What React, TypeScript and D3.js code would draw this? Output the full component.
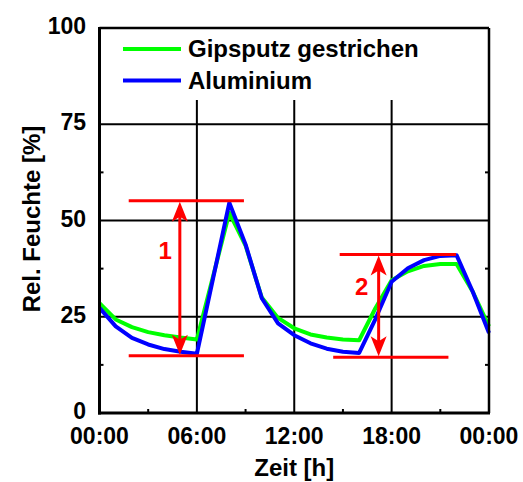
import React from "react";
import * as d3 from "d3";

const hours = [0, 1, 2, 3, 4, 5, 6, 7, 8, 9, 10, 11, 12, 13, 14, 15, 16, 17, 18, 19, 20, 21, 22, 23, 24];
const gipsputz = [28.5, 24.3, 22.3, 21.0, 20.2, 19.6, 19.1, 35.5, 52.0, 43.5, 30.0, 24.7, 22.0, 20.4, 19.6, 19.1, 18.9, 27.2, 34.5, 36.8, 38.2, 38.7, 38.7, 31.5, 22.5];
const aluminium = [27.3, 22.5, 19.5, 17.8, 16.6, 15.9, 15.4, 35.0, 54.6, 43.8, 29.8, 23.3, 20.2, 18.1, 16.7, 15.9, 15.6, 24.4, 34.1, 37.6, 39.7, 40.8, 41.0, 31.5, 20.8];
const seriesNames = ["Gipsputz gestrichen", "Aluminium"];
const seriesColors = ["#00ff00", "#0000ff"];
const yTicks = [0, 25, 50, 75, 100];
const yMinorTicks = [12.5, 37.5, 62.5, 87.5];
const xTicks = [0, 6, 12, 18, 24];
const xTickLabels = ["00:00", "06:00", "12:00", "18:00", "00:00"];
const xMinorTicks = [3, 9, 15, 21];

// annotation: label, arrow x, top value, bottom value, top line x-range, bottom line x-range, label pos
const annLabels = ["1", "2"];
const annArrowX = [4.95, 17.2];
const annTop = [55.1, 41.2];
const annBottom = [14.9, 14.5];
const annTopRange = [[1.8, 8.9], [14.8, 21.97]];
const annBottomRange = [[1.8, 8.9], [14.4, 21.5]];
const annLabelPos = [[4.05, 42.3], [16.15, 32.8]];

const W = 523, H = 482;
const FONT = "'Liberation Sans', Arial, Helvetica, sans-serif";

export default function App() {
  const x = d3.scaleLinear().domain([0, 24]).range([99.5, 489]);
  const y = d3.scaleLinear().domain([0, 100]).range([413, 28]);
  const line = d3.line<number>().x((_, i) => x(hours[i])).y((d) => y(d));
  const legendBottom = 100;

  const arrowHead = (px: number, py: number, dir: number) => {
    // dir = -1 pointing up, +1 pointing down
    const L = 20, Wd = 8, notch = 5;
    const by = py - dir * L;
    return `M${px},${py} L${px - Wd},${by} L${px},${by + dir * notch} L${px + Wd},${by} Z`;
  };

  return (
    <svg width={W} height={H} style={{ position: "absolute", left: 0, top: 0, background: "#fff" }} fontFamily={FONT}>
      <rect x={0} y={0} width={W} height={H} fill="#fff" />
      {/* grid */}
      {yTicks.slice(1, 4).map((t) => (
        <line key={"gy" + t} x1={x(0)} x2={x(24)} y1={y(t)} y2={y(t)} stroke="#000" strokeWidth={2} />
      ))}
      {xTicks.slice(1, 4).map((t) => (
        <line key={"gx" + t} x1={x(t)} x2={x(t)} y1={y(0)} y2={legendBottom} stroke="#000" strokeWidth={2} />
      ))}
      {/* minor ticks */}
      {yMinorTicks.map((t) => (
        <g key={"my" + t}>
          <line x1={x(0)} x2={x(0) + 4} y1={y(t)} y2={y(t)} stroke="#000" strokeWidth={2} />
          <line x1={x(24) - 4} x2={x(24)} y1={y(t)} y2={y(t)} stroke="#000" strokeWidth={2} />
        </g>
      ))}
      {xMinorTicks.map((t) => (
        <line key={"mx" + t} x1={x(t)} x2={x(t)} y1={y(0)} y2={y(0) - 4} stroke="#000" strokeWidth={2} />
      ))}
      {/* series */}
      <path d={line(gipsputz) || ""} fill="none" stroke={seriesColors[0]} strokeWidth={4} strokeLinejoin="round" />
      <path d={line(aluminium) || ""} fill="none" stroke={seriesColors[1]} strokeWidth={4} strokeLinejoin="round" />
      {/* legend */}
      <rect x={x(0) + 1} y={y(100) + 1} width={x(24) - x(0) - 2} height={legendBottom - y(100) - 1} fill="#fff" />
      {seriesNames.map((n, i) => (
        <g key={n}>
          <line x1={123} x2={181} y1={49 + i * 31.5} y2={49 + i * 31.5} stroke={seriesColors[i]} strokeWidth={4} />
          <text x={188} y={49 + i * 31.5} dy="0.35em" fontSize={24} fontWeight="bold" fill="#000">{n}</text>
        </g>
      ))}
      {/* frame */}
      <line x1={x(0)} x2={x(24)} y1={y(100)} y2={y(100)} stroke="#000" strokeWidth={2.5} />
      <line x1={x(24)} x2={x(24)} y1={y(100)} y2={y(0)} stroke="#000" strokeWidth={2.5} />
      <line x1={x(0)} x2={x(0)} y1={y(100) - 1} y2={y(0) + 1.5} stroke="#000" strokeWidth={3} />
      <line x1={x(0) - 1.5} x2={x(24) + 1} y1={y(0)} y2={y(0)} stroke="#000" strokeWidth={3} />
      {/* annotations */}
      {annLabels.map((lab, i) => {
        const ax = x(annArrowX[i]);
        const yt = y(annTop[i]);
        const yb = y(annBottom[i]);
        return (
          <g key={"ann" + i}>
            <line x1={x(annTopRange[i][0])} x2={x(annTopRange[i][1])} y1={yt} y2={yt} stroke="#ff0000" strokeWidth={3} />
            <line x1={x(annBottomRange[i][0])} x2={x(annBottomRange[i][1])} y1={yb} y2={yb} stroke="#ff0000" strokeWidth={3} />
            <line x1={ax} x2={ax} y1={yt + 10} y2={yb - 10} stroke="#ff0000" strokeWidth={3} />
            <path d={arrowHead(ax, yt + 1, -1)} fill="#ff0000" />
            <path d={arrowHead(ax, yb - 1, 1)} fill="#ff0000" />
            <text x={x(annLabelPos[i][0])} y={y(annLabelPos[i][1])} dy="0.35em" textAnchor="middle" fontSize={24} fontWeight="bold" fill="#ff0000">{lab}</text>
          </g>
        );
      })}
      {/* y tick labels */}
      {yTicks.map((t) => (
        <text key={"yl" + t} x={86} y={y(t) - 2} dy="0.35em" textAnchor="end" fontSize={23} fontWeight="bold" fill="#000">{t}</text>
      ))}
      {/* x tick labels */}
      {xTicks.map((t, i) => (
        <text key={"xl" + i} x={x(t)} y={444} textAnchor="middle" fontSize={23} fontWeight="bold" fill="#000">{xTickLabels[i]}</text>
      ))}
      <text x={(x(0) + x(24)) / 2} y={476} textAnchor="middle" fontSize={24} fontWeight="bold" fill="#000">Zeit [h]</text>
      <text transform={`translate(40,${219}) rotate(-90)`} textAnchor="middle" fontSize={24} fontWeight="bold" fill="#000">Rel. Feuchte [%]</text>
    </svg>
  );
}
